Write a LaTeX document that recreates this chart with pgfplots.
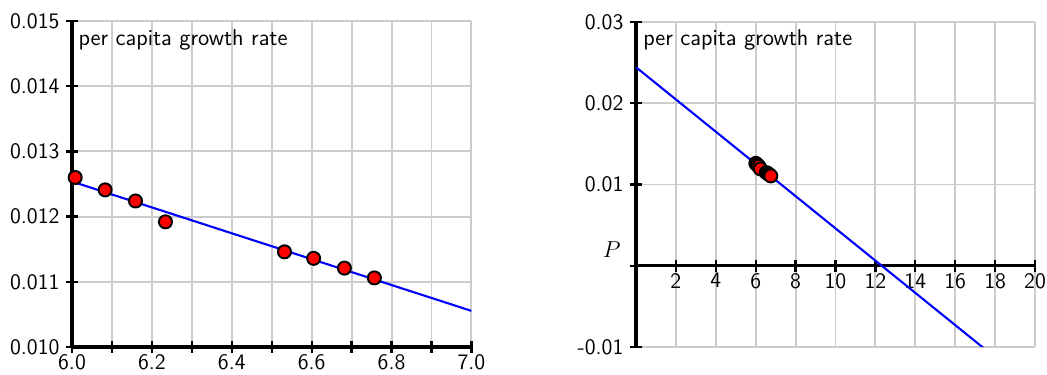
\documentclass[border=0pt]{standalone}
\usepackage{pgfplots}
\pgfplotsset{compat=1.18}
\definecolor{gridgray}{RGB}{204,204,204}
\begin{document}
\begin{tikzpicture}[font=\fontsize{11.5}{13}\selectfont\sffamily]
\path[use as bounding box] (0,0) rectangle (544.44pt,195pt);
\pgfplotsset{
  common/.style={
    scale only axis, anchor=south west,
    grid=both,
    grid style={gridgray, line width=1pt},
    major grid style={gridgray, line width=1pt},
    minor grid style={gridgray, line width=1pt},
    axis line style={black, line width=1.6pt, -},
    tick style={black, line width=1.2pt},
    tick align=center,
    major tick length=6pt, minor tick length=6pt,
    tick label style={font=\fontsize{11.5}{13}\selectfont\sffamily},
    xticklabel style={yshift=2.5pt},
    scaled x ticks=false, scaled y ticks=false,
    clip mode=individual,
    /pgf/number format/assume math mode=true,
  },
  dots/.style={only marks, mark=*, mark size=3.4pt,
    mark options={fill=red, draw=black, line width=1pt}},
  fit/.style={blue, line width=1.1pt, no marks},
}
% left panel
\begin{axis}[common,
  at={(37.44pt,14.56pt)}, width=207.7pt, height=169.5pt,
  axis x line*=bottom, axis y line*=left,
  xmin=6, xmax=7, ymin=0.010, ymax=0.015,
  xtick={6,6.2,6.4,6.6,6.8,7},
  xticklabels={6.0,6.2,6.4,6.6,6.8,7.0},
  minor xtick={6.1,6.3,6.5,6.7,6.9},
  ytick={0.010,0.011,0.012,0.013,0.014,0.015},
  yticklabels={0.010,0.011,0.012,0.013,0.014,0.015},
]
\addplot[fit] coordinates {(6,0.012538) (7,0.010554)};
\addplot[dots] coordinates {
(6.008,0.01260) (6.083,0.01241) (6.159,0.01224) (6.234,0.01192)
(6.532,0.01146) (6.605,0.01136) (6.682,0.01121) (6.757,0.01106)};
\node[anchor=north west, inner sep=0pt, xshift=3.2pt, yshift=-4pt, font=\fontsize{11.9}{13}\selectfont\sffamily] at (rel axis cs:0,1) {per capita growth rate};
\end{axis}
% right panel
\begin{axis}[common,
  at={(330.7pt,14.56pt)}, width=207.5pt, height=169pt,
  axis x line*=middle, axis y line*=left,
  xmin=0, xmax=20, ymin=-0.01, ymax=0.03,
  xtick={0,2,4,6,8,10,12,14,16,18,20},
  xticklabels={{},2,4,6,8,10,12,14,16,18,20},
  ytick={-0.01,0,0.01,0.02,0.03},
  yticklabels={-0.01,{},0.01,0.02,0.03},
]
\addplot[fit] coordinates {(0,0.02444) (20,-0.01524)};
\addplot[dots] coordinates {
(6.008,0.01260) (6.083,0.01241) (6.159,0.01224) (6.234,0.01192)
(6.532,0.01146) (6.605,0.01136) (6.682,0.01121) (6.757,0.01106)};
\node[anchor=north west, inner sep=0pt, xshift=3.6pt, yshift=-4pt, font=\fontsize{11.9}{13}\selectfont\sffamily] at (rel axis cs:0,1) {per capita growth rate};
\node[anchor=south east, inner sep=0pt, xshift=-7.8pt, yshift=4pt, font=\fontsize{12}{13}\selectfont] at (axis cs:0,0) {$P$};
\end{axis}
\end{tikzpicture}
\end{document}
